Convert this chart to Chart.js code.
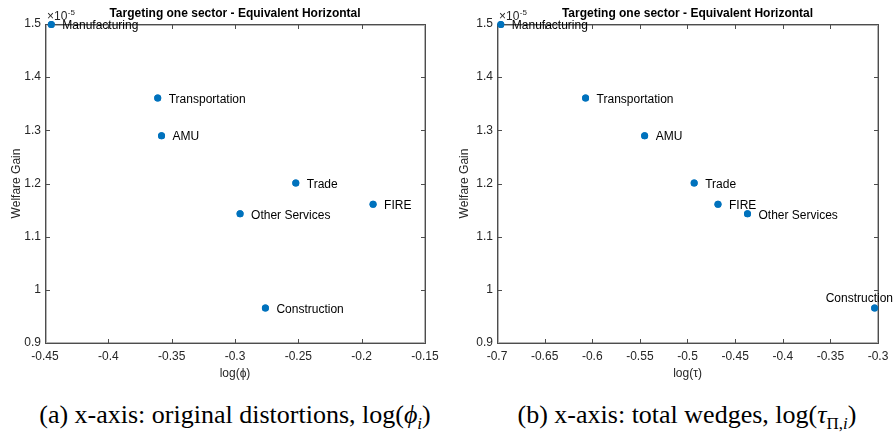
<!DOCTYPE html>
<html><head><meta charset="utf-8">
<script src="https://cdn.jsdelivr.net/npm/chart.js@4/dist/chart.umd.min.js"></script>
<style>
html,body{margin:0;padding:0;background:#fff;}
#wrap{position:relative;width:896px;height:432px;overflow:hidden;background:#fff;}
.panel{position:absolute;top:0;width:448px;height:385px;}
.cap{position:absolute;top:400px;font-family:"Liberation Serif",serif;font-size:26px;color:#000;white-space:nowrap;transform:translateX(-50%);line-height:30px;}
.cap sub{font-size:17px;line-height:0;}
</style></head><body>
<div id="wrap">
<div class="panel" style="left:0"><canvas id="ca" width="448" height="385"></canvas></div>
<div class="panel" style="left:448px"><canvas id="cb" width="448" height="385"></canvas></div>
<div class="cap" style="left:235px">(a) x-axis: original distortions, log(<i>ϕ<sub>i</sub></i>)</div>
<div class="cap" style="left:687px">(b) x-axis: total wedges, log(<i>τ</i><sub>Π,<i>i</i></sub>)</div>
</div>
<script>
const sectors = ['Manufacturing','Transportation','AMU','Trade','FIRE','Other Services','Construction'];
// Welfare gain in units of 1e-5
const welfareGain = [1.499, 1.361, 1.290, 1.201, 1.161, 1.143, 0.966];
const logPhi = [-0.445, -0.361, -0.358, -0.252, -0.191, -0.296, -0.276];
const logTau = [-0.696, -0.607, -0.545, -0.493, -0.468, -0.437, -0.3035];
const xTicksA = [-0.45, -0.4, -0.35, -0.3, -0.25, -0.2, -0.15];
const xTickLabelsA = ['-0.45', '-0.4', '-0.35', '-0.3', '-0.25', '-0.2', '-0.15'];
const xTicksB = [-0.7, -0.65, -0.6, -0.55, -0.5, -0.45, -0.4, -0.35, -0.3];
const xTickLabelsB = ['-0.7', '-0.65', '-0.6', '-0.55', '-0.5', '-0.45', '-0.4', '-0.35', '-0.3'];
const yTicks = [0.9, 1, 1.1, 1.2, 1.3, 1.4, 1.5];
const yTickLabels = ['0.9', '1', '1.1', '1.2', '1.3', '1.4', '1.5'];
const titleText = 'Targeting one sector - Equivalent Horizontal';
const yTitle = 'Welfare Gain';
const exponentBase = '\u00d710';
const exponentPow = '-5';

const FONT = '"Liberation Sans", Arial, Helvetica, sans-serif';
const AX = '#262626';
const BOX = '#4d4d4d';
const BOX_SOFT = '#b3b3b3';
const MARK = '#0072BD';

const decorPlugin = {
  id: 'decor',
  afterDraw(chart) {
    const ctx = chart.ctx;
    const ca = chart.chartArea;
    const xs = chart.scales.x, ys = chart.scales.y;
    ctx.save();
    const L = Math.round(ca.left), R = Math.round(ca.right);
    const T = Math.round(ca.top), B = Math.round(ca.bottom);
    // soft inner edge (anti-aliased look)
    ctx.fillStyle = BOX_SOFT;
    ctx.fillRect(L + 1, T + 1, R - L - 1, 1);
    ctx.fillRect(L + 1, B - 1, R - L - 1, 1);
    ctx.fillRect(L + 1, T + 1, 1, B - T - 1);
    ctx.fillRect(R - 1, T + 1, 1, B - T - 1);
    // box
    ctx.fillStyle = BOX;
    ctx.fillRect(L, T, R - L + 1, 1);
    ctx.fillRect(L, B, R - L + 1, 1);
    ctx.fillRect(L, T, 1, B - T + 1);
    ctx.fillRect(R, T, 1, B - T + 1);
    // inward ticks
    const tl = 4;
    xs.ticks.forEach(t => {
      const px = Math.round(xs.getPixelForValue(t.value));
      ctx.fillRect(px, B - tl, 1, tl);
      ctx.fillRect(px, T + 1, 1, tl);
    });
    ys.ticks.forEach(t => {
      const py = Math.round(ys.getPixelForValue(t.value));
      ctx.fillRect(L + 1, py, tl, 1);
      ctx.fillRect(R - tl, py, tl, 1);
    });
    // exponent
    ctx.fillStyle = AX;
    ctx.textAlign = 'left';
    ctx.textBaseline = 'alphabetic';
    ctx.font = '12px ' + FONT;
    const ex = ca.left + 2;
    ctx.fillText(exponentBase, ex, 20);
    const w = ctx.measureText(exponentBase).width;
    ctx.font = '8px ' + FONT;
    ctx.fillText(exponentPow, ex + w + 0.5, 15);
    // redraw markers above the box, then point labels
    const meta = chart.getDatasetMeta(0);
    ctx.fillStyle = MARK;
    meta.data.forEach(pt => {
      ctx.beginPath();
      ctx.arc(pt.x, pt.y, 3.5, 0, Math.PI * 2);
      ctx.fill();
    });
    ctx.font = '12px ' + FONT;
    ctx.fillStyle = '#000';
    ctx.textBaseline = 'middle';
    meta.data.forEach((pt, i) => {
      const label = sectors[i];
      const tw = ctx.measureText(label).width;
      let x = pt.x + 11, y = pt.y + 1.5;
      if (x + tw > chart.width - 2) {
        x = Math.min(pt.x - tw / 2, chart.width - 3 - tw);
        y = pt.y - 9.5;
      }
      ctx.fillText(label, x, y);
    });
    ctx.restore();
  }
};

function makeChart(id, xVals, xTicks, xLabels, xMin, xMax, xTitle, yWidth, rightPad) {
  const data = xVals.map((x, i) => ({ x: x, y: welfareGain[i] }));
  return new Chart(document.getElementById(id), {
    type: 'scatter',
    data: { datasets: [{ data: data, pointRadius: 3.5, pointHoverRadius: 3.5, backgroundColor: MARK, borderWidth: 0, clip: false }] },
    plugins: [decorPlugin],
    options: {
      responsive: false,
      animation: false,
      layout: { padding: { left: 0, right: rightPad, top: 0, bottom: 0 } },
      plugins: {
        legend: { display: false },
        tooltip: { enabled: false },
        title: {
          display: true, text: titleText, color: '#000', fullSize: false,
          font: { family: FONT, size: 12, weight: 'bold', lineHeight: 1.2 },
          padding: { top: 6, bottom: 3.6 }
        }
      },
      scales: {
        x: {
          type: 'linear', min: xMin, max: xMax,
          afterBuildTicks: s => { s.ticks = xTicks.map(v => ({ value: v })); },
          afterFit: s => { s.height = 42; },
          ticks: {
            color: AX, padding: 6, maxRotation: 0, autoSkip: false,
            font: { family: FONT, size: 12 },
            callback: (v, i) => xLabels[i]
          },
          grid: { display: false, drawTicks: false }, border: { display: false },
          title: { display: true, text: xTitle, color: AX, font: { family: FONT, size: 12 }, padding: { top: 4, bottom: 4 } }
        },
        y: {
          type: 'linear', min: 0.9, max: 1.5,
          afterBuildTicks: s => { s.ticks = yTicks.map(v => ({ value: v })); },
          afterFit: s => { s.width = yWidth; },
          ticks: {
            color: AX, padding: 4, autoSkip: false,
            font: { family: FONT, size: 12 },
            callback: (v, i) => yTickLabels[i]
          },
          grid: { display: false, drawTicks: false }, border: { display: false },
          title: { display: true, text: yTitle, color: AX, font: { family: FONT, size: 12 }, padding: { top: 9, bottom: 4 } }
        }
      }
    }
  });
}

makeChart('ca', logPhi, xTicksA, xTickLabelsA, -0.45, -0.15, 'log(\u03d5)', 45, 23);
makeChart('cb', logTau, xTicksB, xTickLabelsB, -0.7, -0.3, 'log(\u03c4)', 49, 18);
</script>
</body></html>
